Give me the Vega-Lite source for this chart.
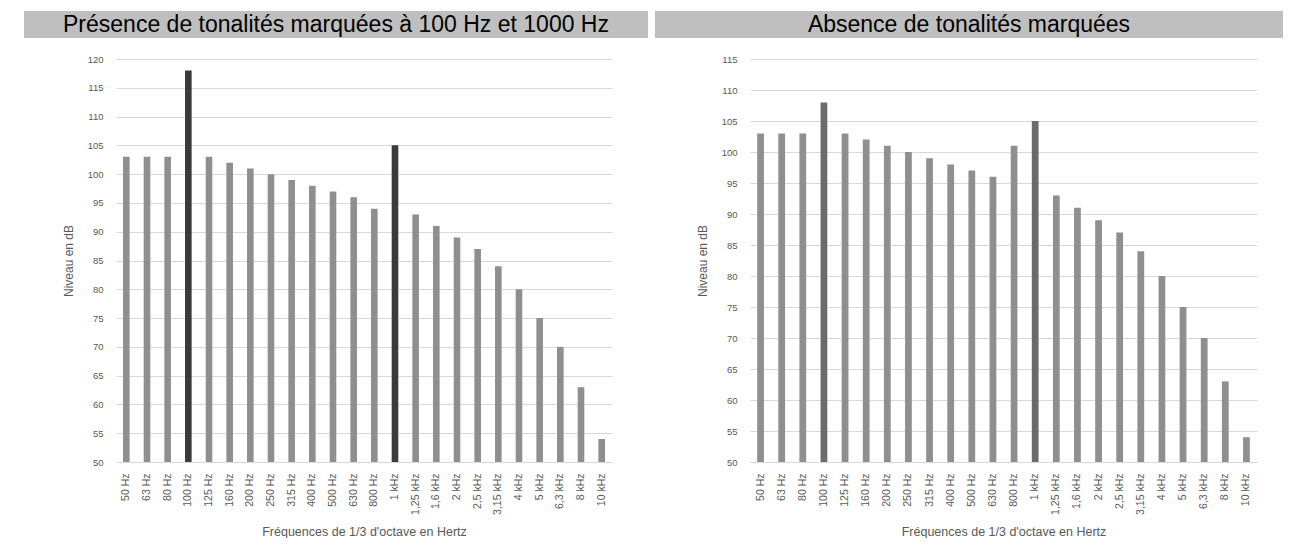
{
  "$schema": "https://vega.github.io/schema/vega-lite/v6.json",
  "padding": {"left": 24, "top": 11, "right": 0, "bottom": 0},
  "background": "white",
  "config": {"view": {"stroke": null}, "font": "Liberation Sans"},
  "datasets": {
    "presence": [
      {"frequence": "50 Hz", "niveau": 103, "type": "normale"},
      {"frequence": "63 Hz", "niveau": 103, "type": "normale"},
      {"frequence": "80 Hz", "niveau": 103, "type": "normale"},
      {"frequence": "100 Hz", "niveau": 118, "type": "tonale"},
      {"frequence": "125 Hz", "niveau": 103, "type": "normale"},
      {"frequence": "160 Hz", "niveau": 102, "type": "normale"},
      {"frequence": "200 Hz", "niveau": 101, "type": "normale"},
      {"frequence": "250 Hz", "niveau": 100, "type": "normale"},
      {"frequence": "315 Hz", "niveau": 99, "type": "normale"},
      {"frequence": "400 Hz", "niveau": 98, "type": "normale"},
      {"frequence": "500 Hz", "niveau": 97, "type": "normale"},
      {"frequence": "630 Hz", "niveau": 96, "type": "normale"},
      {"frequence": "800 Hz", "niveau": 94, "type": "normale"},
      {"frequence": "1 kHz", "niveau": 105, "type": "tonale"},
      {"frequence": "1,25 kHz", "niveau": 93, "type": "normale"},
      {"frequence": "1,6 kHz", "niveau": 91, "type": "normale"},
      {"frequence": "2 kHz", "niveau": 89, "type": "normale"},
      {"frequence": "2,5 kHz", "niveau": 87, "type": "normale"},
      {"frequence": "3,15 kHz", "niveau": 84, "type": "normale"},
      {"frequence": "4 kHz", "niveau": 80, "type": "normale"},
      {"frequence": "5 kHz", "niveau": 75, "type": "normale"},
      {"frequence": "6,3 kHz", "niveau": 70, "type": "normale"},
      {"frequence": "8 kHz", "niveau": 63, "type": "normale"},
      {"frequence": "10 kHz", "niveau": 54, "type": "normale"}
    ],
    "absence": [
      {"frequence": "50 Hz", "niveau": 103, "type": "normale"},
      {"frequence": "63 Hz", "niveau": 103, "type": "normale"},
      {"frequence": "80 Hz", "niveau": 103, "type": "normale"},
      {"frequence": "100 Hz", "niveau": 108, "type": "pic"},
      {"frequence": "125 Hz", "niveau": 103, "type": "normale"},
      {"frequence": "160 Hz", "niveau": 102, "type": "normale"},
      {"frequence": "200 Hz", "niveau": 101, "type": "normale"},
      {"frequence": "250 Hz", "niveau": 100, "type": "normale"},
      {"frequence": "315 Hz", "niveau": 99, "type": "normale"},
      {"frequence": "400 Hz", "niveau": 98, "type": "normale"},
      {"frequence": "500 Hz", "niveau": 97, "type": "normale"},
      {"frequence": "630 Hz", "niveau": 96, "type": "normale"},
      {"frequence": "800 Hz", "niveau": 101, "type": "normale"},
      {"frequence": "1 kHz", "niveau": 105, "type": "pic"},
      {"frequence": "1,25 kHz", "niveau": 93, "type": "normale"},
      {"frequence": "1,6 kHz", "niveau": 91, "type": "normale"},
      {"frequence": "2 kHz", "niveau": 89, "type": "normale"},
      {"frequence": "2,5 kHz", "niveau": 87, "type": "normale"},
      {"frequence": "3,15 kHz", "niveau": 84, "type": "normale"},
      {"frequence": "4 kHz", "niveau": 80, "type": "normale"},
      {"frequence": "5 kHz", "niveau": 75, "type": "normale"},
      {"frequence": "6,3 kHz", "niveau": 70, "type": "normale"},
      {"frequence": "8 kHz", "niveau": 63, "type": "normale"},
      {"frequence": "10 kHz", "niveau": 54, "type": "normale"}
    ]
  },
  "spacing": 16,
  "vconcat": [
    {
      "hconcat": [
        {
          "width": 624, "height": 27,
          "view": {"fill": "#bfbfbf", "stroke": null},
          "data": {"values": [{"titre": "Présence de tonalités marquées à 100 Hz et 1000 Hz"}]},
          "mark": {"type": "text", "font": "Liberation Sans", "fontSize": 23, "color": "#000000"},
          "encoding": {"text": {"field": "titre"}}
        },
        {
          "width": 628, "height": 27,
          "view": {"fill": "#bfbfbf", "stroke": null},
          "data": {"values": [{"titre": "Absence de tonalités marquées"}]},
          "mark": {"type": "text", "font": "Liberation Sans", "fontSize": 23, "color": "#000000"},
          "encoding": {"text": {"field": "titre"}}
        }
      ],
      "spacing": 7
    },
    {
      "hconcat": [
        {
          "width": 38, "height": 1,
          "data": {"values": []},
          "mark": {"type": "point", "opacity": 0},
          "encoding": {}
        },
        {
          "hconcat": [
            {
              "width": 496, "height": 403,
              "data": {"name": "presence"},
              "mark": {"type": "bar"},
              "encoding": {
                "x": {
                  "field": "frequence", "type": "nominal", "sort": null,
                  "scale": {"paddingInner": 0.68, "paddingOuter": 0.34},
                  "axis": {"title": "Fréquences de 1/3 d'octave en Hertz", "labelAngle": -90, "labelPadding": 11, "ticks": false, "domain": true, "domainColor": "#d9d9d9", "labelFontSize": 10.5, "labelColor": "#595959", "titleFontSize": 12.5, "titleColor": "#595959", "titleFontWeight": "normal", "titlePadding": 11}
                },
                "y": {
                  "field": "niveau", "type": "quantitative",
                  "scale": {"domain": [50, 120], "zero": false, "nice": false},
                  "axis": {"title": "Niveau en dB", "values": [50, 55, 60, 65, 70, 75, 80, 85, 90, 95, 100, 105, 110, 115, 120], "domain": false, "ticks": false, "gridColor": "#d9d9d9", "labelPadding": 13, "labelFontSize": 9.5, "labelColor": "#595959", "titleFontSize": 12, "titleColor": "#595959", "titleFontWeight": "normal", "titlePadding": 12}
                },
                "y2": {"datum": 50},
                "color": {"field": "type", "type": "nominal", "scale": {"domain": ["normale", "tonale", "pic"], "range": ["#8f8f8f", "#3a3a3a", "#6b6b6b"]}, "legend": null}
              }
            },
            {
              "width": 507, "height": 403,
              "data": {"name": "absence"},
              "mark": {"type": "bar"},
              "encoding": {
                "x": {
                  "field": "frequence", "type": "nominal", "sort": null,
                  "scale": {"paddingInner": 0.68, "paddingOuter": 0.34},
                  "axis": {"title": "Fréquences de 1/3 d'octave en Hertz", "labelAngle": -90, "labelPadding": 11, "ticks": false, "domain": true, "domainColor": "#d9d9d9", "labelFontSize": 10.5, "labelColor": "#595959", "titleFontSize": 12.5, "titleColor": "#595959", "titleFontWeight": "normal", "titlePadding": 11}
                },
                "y": {
                  "field": "niveau", "type": "quantitative",
                  "scale": {"domain": [50, 115], "zero": false, "nice": false},
                  "axis": {"title": "Niveau en dB", "values": [50, 55, 60, 65, 70, 75, 80, 85, 90, 95, 100, 105, 110, 115], "domain": false, "ticks": false, "gridColor": "#d9d9d9", "labelPadding": 13, "labelFontSize": 9.5, "labelColor": "#595959", "titleFontSize": 12, "titleColor": "#595959", "titleFontWeight": "normal", "titlePadding": 12}
                },
                "y2": {"datum": 50},
                "color": {"field": "type", "type": "nominal", "scale": {"domain": ["normale", "tonale", "pic"], "range": ["#8f8f8f", "#3a3a3a", "#6b6b6b"]}, "legend": null}
              }
            }
          ],
          "spacing": 84,
          "resolve": {"scale": {"x": "independent", "y": "independent"}}
        }
      ],
      "spacing": 0
    }
  ]
}
